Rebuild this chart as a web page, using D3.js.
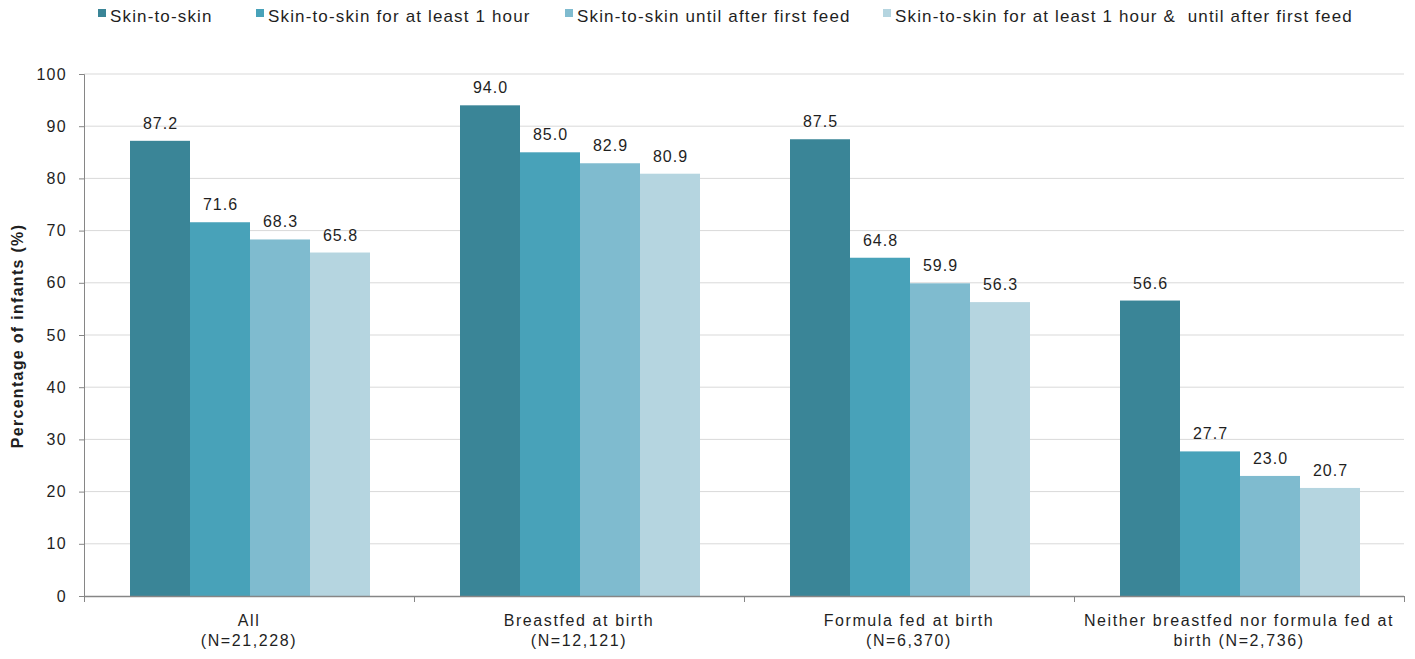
<!DOCTYPE html>
<html>
<head>
<meta charset="utf-8">
<script src="https://cdn.jsdelivr.net/npm/d3@7"></script>
<style>
  html, body { margin: 0; padding: 0; background: #fff; }
  text { font-family: "Liberation Sans", Arial, sans-serif; fill: #1f1f1f; }
</style>
</head>
<body>
<svg id="chart" width="1415" height="659"></svg>
<script>
// Skin-to-skin contact by feeding method at birth
const categories = [
  ["All", "(N=21,228)"],
  ["Breastfed at birth", "(N=12,121)"],
  ["Formula fed at birth", "(N=6,370)"],
  ["Neither breastfed nor formula fed at", "birth (N=2,736)"]
];
const seriesNames = [
  "Skin-to-skin",
  "Skin-to-skin for at least 1 hour",
  "Skin-to-skin until after first feed",
  "Skin-to-skin for at least 1 hour &  until after first feed"
];
const skinToSkin        = [87.2, 94.0, 87.5, 56.6];
const atLeastOneHour    = [71.6, 85.0, 64.8, 27.7];
const untilFirstFeed    = [68.3, 82.9, 59.9, 23.0];
const hourAndFirstFeed  = [65.8, 80.9, 56.3, 20.7];
const seriesValues = [skinToSkin, atLeastOneHour, untilFirstFeed, hourAndFirstFeed];
const colors = ["#3a8597", "#48a2b9", "#7fbbcf", "#b5d5e0"];
const yTicks = [0, 10, 20, 30, 40, 50, 60, 70, 80, 90, 100];

const svg = d3.select("#chart");
const plotLeft = 84, plotRight = 1404, plotTop = 74, plotBottom = 596;

const x0 = d3.scaleBand().domain(d3.range(categories.length)).range([plotLeft, plotRight]).paddingInner(0).paddingOuter(0);
const x1 = d3.scaleBand().domain(d3.range(seriesNames.length)).range([0, x0.bandwidth()]).paddingInner(0).paddingOuter(0.75);
const y = d3.scaleLinear().domain([0, 100]).range([plotBottom, plotTop]);

// gridlines
svg.append("g").selectAll("line").data(yTicks.filter(d => d > 0)).join("line")
  .attr("x1", plotLeft).attr("x2", plotRight)
  .attr("y1", d => y(d)).attr("y2", d => y(d))
  .attr("stroke", "#d9d9d9").attr("stroke-width", 1);

// bars with value labels
const groups = svg.append("g").selectAll("g").data(categories).join("g")
  .attr("transform", (d, i) => `translate(${x0(i) + 1},0)`);
groups.each(function(c, ci) {
  const g = d3.select(this);
  seriesValues.forEach((vals, si) => {
    g.append("rect")
      .attr("x", x1(si)).attr("width", x1.bandwidth())
      .attr("y", y(vals[ci])).attr("height", y(0) - y(vals[ci]))
      .attr("fill", colors[si]);
    g.append("text")
      .attr("x", x1(si) + x1.bandwidth() / 2 + 0.5)
      .attr("y", y(vals[ci]) - 12)
      .attr("text-anchor", "middle")
      .attr("font-size", 16)
      .attr("letter-spacing", 1)
      .text(vals[ci].toFixed(1));
  });
});

// y axis
const yAxis = d3.axisLeft(y).tickValues(yTicks).tickSize(5).tickPadding(12);
const gy = svg.append("g").attr("transform", `translate(${plotLeft},0)`).call(yAxis);
gy.select(".domain").attr("stroke", "#868686");
gy.selectAll(".tick line").attr("stroke", "#868686");
gy.selectAll(".tick text").attr("font-size", 16).attr("letter-spacing", 1.3)
  .attr("font-family", "Liberation Sans, Arial, sans-serif").attr("fill", "#1f1f1f");

// x axis with category boundary ticks
const gx = svg.append("g");
gx.append("line").attr("x1", plotLeft).attr("x2", plotRight).attr("y1", plotBottom + 0.5).attr("y2", plotBottom + 0.5)
  .attr("stroke", "#868686").attr("stroke-width", 1.5);
const bounds = d3.range(categories.length + 1).map(i => i < categories.length ? x0(i) : x0(i - 1) + x0.bandwidth());
gx.selectAll("line.b").data(bounds).join("line").attr("class", "b")
  .attr("x1", d => d + 0.5).attr("x2", d => d + 0.5).attr("y1", plotBottom).attr("y2", plotBottom + 6)
  .attr("stroke", "#868686");
gx.selectAll("text").data(categories).join("text")
  .attr("x", (d, i) => x0(i) + x0.bandwidth() / 2)
  .attr("y", 626)
  .attr("text-anchor", "middle")
  .attr("font-size", 16)
  .attr("letter-spacing", 1.6)
  .each(function(d) {
    const t = d3.select(this);
    d.forEach((line, k) => t.append("tspan").attr("x", t.attr("x")).attr("dy", k === 0 ? 0 : 20).text(line));
  });

// y axis title
svg.append("text")
  .attr("transform", `translate(23,${(plotTop + plotBottom) / 2 + 1}) rotate(-90)`)
  .attr("text-anchor", "middle")
  .attr("font-size", 16).attr("font-weight", "bold")
  .attr("letter-spacing", 1.3)
  .text("Percentage of infants (%)");

// legend
const legendX = [98, 256, 565, 883];
const leg = svg.append("g").selectAll("g").data(seriesNames).join("g")
  .attr("transform", (d, i) => `translate(${legendX[i]},0)`);
leg.append("rect").attr("x", 0).attr("y", 9).attr("width", 8).attr("height", 8).attr("fill", (d, i) => colors[i]);
leg.append("text").attr("x", 12).attr("y", 22).attr("font-size", 17).attr("letter-spacing", 1.15)
  .style("white-space", "pre").text(d => d);
</script>
</body>
</html>
